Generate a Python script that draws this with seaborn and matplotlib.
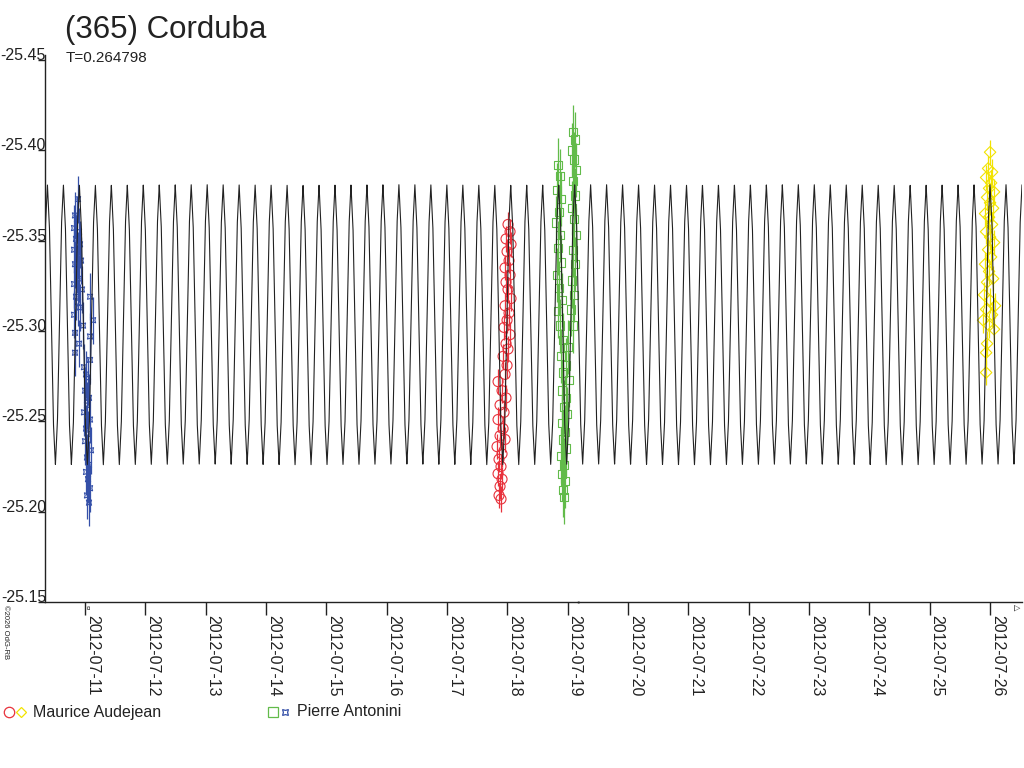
import numpy as np
import pandas as pd
import matplotlib
matplotlib.use("Agg")
import matplotlib.pyplot as plt
import matplotlib.dates as mdates
from matplotlib.lines import Line2D
import seaborn as sns

# --- data (times as fractional day of July 2012, magnitudes) ---
PERIOD = 0.264798
EPOCH_DAY = 11.966          # a light-curve maximum
MODEL_PHASE = [0.0, 0.125, 0.25, 0.375, 0.5, 0.625, 0.75, 0.875, 1.0]
MODEL_MAG = [-25.381, -25.358, -25.303, -25.249, -25.226, -25.249, -25.303, -25.358, -25.381]

# Pierre Antonini, session 1 (blue)
anto1_t = [10.884, 10.834, 10.867, 10.818, 10.901, 10.851, 10.917, 10.818, 10.884, 10.934,
           10.834, 10.867, 10.901, 10.818, 10.950, 10.851, 11.083, 10.884, 10.917, 10.818,
           11.133, 10.967, 10.834, 11.083, 10.901, 10.834, 11.083, 10.983, 11.017, 11.050,
           11.000, 11.066, 11.033, 10.983, 11.083, 11.017, 11.050, 11.000, 11.099, 11.033,
           11.066, 11.017, 11.050, 11.083, 11.033, 11.066]
anto1_m = [-25.373, -25.364, -25.362, -25.357, -25.355, -25.351, -25.348, -25.345, -25.342, -25.339,
           -25.337, -25.334, -25.329, -25.326, -25.323, -25.319, -25.319, -25.316, -25.313, -25.309,
           -25.306, -25.303, -25.299, -25.297, -25.293, -25.288, -25.284, -25.280, -25.276, -25.272,
           -25.267, -25.263, -25.259, -25.255, -25.251, -25.246, -25.243, -25.239, -25.234, -25.230,
           -25.226, -25.222, -25.218, -25.213, -25.209, -25.205]

# Maurice Audejean, session 1 (red)
aude1_t = [18.011, 18.045, 17.978, 18.061, 17.995, 18.028, 17.962, 18.045, 17.978, 18.011,
           18.061, 17.962, 18.028, 17.995, 17.945, 18.045, 17.978, 18.011, 17.929, 17.995,
           17.846, 17.962, 17.912, 17.978, 17.879, 17.945, 17.846, 17.929, 17.879, 17.962,
           17.829, 17.912, 17.862, 17.895, 17.846, 17.912, 17.879, 17.862, 17.895]
aude1_m = [-25.359, -25.355, -25.351, -25.348, -25.344, -25.339, -25.335, -25.331, -25.327, -25.323,
           -25.318, -25.314, -25.310, -25.306, -25.302, -25.298, -25.293, -25.290, -25.286, -25.281,
           -25.272, -25.276, -25.267, -25.263, -25.259, -25.255, -25.251, -25.246, -25.242, -25.240,
           -25.236, -25.232, -25.229, -25.225, -25.221, -25.218, -25.214, -25.209, -25.207]

# Pierre Antonini, session 2 (green)
anto2_t = [18.840, 18.873, 18.824, 18.890, 18.857, 18.807, 18.873, 18.840, 18.890, 18.824,
           18.857, 18.907, 18.840, 18.873,
           19.089, 19.122, 19.072, 19.106, 19.139, 19.089, 19.122, 19.072, 19.106, 19.139,
           19.089, 19.122, 19.072, 19.106, 19.056, 19.089,
           18.923, 19.006, 18.890, 18.973, 18.923, 19.023, 18.907, 18.973, 18.940, 18.990,
           18.907, 18.956, 18.923, 18.973, 18.890, 18.940, 18.907, 18.956, 18.923, 18.940]
anto2_m = [-25.392, -25.386, -25.378, -25.373, -25.366, -25.360, -25.353, -25.346, -25.338, -25.331,
           -25.324, -25.317, -25.311, -25.303,
           -25.410, -25.406, -25.400, -25.395, -25.389, -25.383, -25.375, -25.368, -25.362, -25.353,
           -25.345, -25.337, -25.328, -25.320, -25.312, -25.303,
           -25.295, -25.291, -25.286, -25.281, -25.277, -25.273, -25.267, -25.263, -25.258, -25.254,
           -25.249, -25.244, -25.240, -25.235, -25.231, -25.226, -25.221, -25.217, -25.212, -25.208]

# Maurice Audejean, session 2 (yellow)
aude2_t = [26.001, 25.968, 26.034, 25.935, 26.018, 25.984, 26.067, 25.951, 26.001, 26.051,
           25.918, 25.984, 26.034, 25.935, 26.001, 26.067, 25.968, 26.018, 25.918, 25.984,
           26.051, 25.951, 25.901, 26.001, 26.084, 25.935, 26.034, 25.885, 25.984, 26.067,
           25.951, 25.935, 25.935]
aude2_m = [-25.399, -25.390, -25.388, -25.385, -25.382, -25.379, -25.377, -25.374, -25.371, -25.368,
           -25.365, -25.363, -25.359, -25.355, -25.352, -25.349, -25.345, -25.341, -25.337, -25.333,
           -25.329, -25.327, -25.320, -25.317, -25.314, -25.312, -25.309, -25.306, -25.303, -25.301,
           -25.293, -25.288, -25.277]

date_days = list(range(11, 27))
y_ticks = [-25.45, -25.40, -25.35, -25.30, -25.25, -25.20, -25.15]

BASE = pd.Timestamp("2012-07-01")


def to_dates(days):
    return BASE + pd.to_timedelta(np.asarray(days, dtype=float) - 1.0, unit="D")


sns.set_style("white")
plt.rcParams["font.family"] = ["Liberation Sans", "DejaVu Sans"]
TXT = "#222222"

fig = plt.figure(figsize=(10.24, 7.68), dpi=100)
ax = fig.add_axes([45 / 1024, 1 - 602 / 768, (1022 - 45) / 1024, (602 - 55) / 768])

# model light curve, repeated with period T
model_days = np.linspace(10.337, 26.53, 14000)
phase = np.mod((model_days - EPOCH_DAY) / PERIOD, 1.0)
model_mag = np.interp(phase, MODEL_PHASE, MODEL_MAG)

series = [
    (anto1_t, anto1_m, 0.013, "#3550a8", (4, 1, 45), 28),
    (aude1_t, aude1_m, 0.007, "#e8323c", "o", 52),
    (anto2_t, anto2_m, 0.015, "#62bb4a", "s", 36),
    (aude2_t, aude2_m, 0.007, "#f2e300", "D", 34),
]
for t, m, err, col, mk, size in series:
    dt = to_dates(t)
    ax.errorbar(dt, m, yerr=err, fmt="none", ecolor=col, elinewidth=0.9, capsize=0, zorder=2)
    sns.scatterplot(x=dt, y=m, marker=mk, s=size, color=col, facecolors="none",
                    edgecolors=col, linewidth=0.8, ax=ax, zorder=2, legend=False)

sns.lineplot(x=to_dates(model_days), y=model_mag, color=TXT, linewidth=0.8,
             estimator=None, sort=False, ax=ax, zorder=3)

ax.set_xlim(to_dates([10.337])[0], to_dates([26.53])[0])
ax.set_ylim(-25.15, -25.4528)
ax.set_xlabel("")
ax.set_ylabel("")

ax.set_xticks(to_dates(date_days))
ax.xaxis.set_major_formatter(mdates.DateFormatter("%Y-%m-%d"))
ax.set_yticks(y_ticks)
ax.set_yticklabels([f"{v:.2f}" for v in y_ticks])

ax.tick_params(axis="x", direction="out", length=9.5, width=1, color=TXT, pad=0,
               labelsize=11.5, labelcolor=TXT, bottom=True)
ax.tick_params(axis="y", direction="out", length=5, width=1, color=TXT, pad=-5.8,
               labelsize=11.5, labelcolor=TXT, left=True)
for lab in ax.get_xticklabels():
    lab.set_rotation(270)
    lab.set_ha("left")
    lab.set_va("top")
for lab in ax.get_yticklabels():
    lab.set_va("baseline")
    lab.set_ha("right")

sns.despine(ax=ax, top=True, right=True)
for sp in ["left", "bottom"]:
    ax.spines[sp].set_color(TXT)
    ax.spines[sp].set_linewidth(1.0)

# titles
fig.text(65 / 1024, 1 - 30 / 768, "(365) Corduba", fontsize=22.5, color=TXT, va="center", ha="left")
fig.text(66 / 1024, 1 - 58 / 768, "T=0.264798", fontsize=11, color=TXT, va="center", ha="left")

# small session marks on the time axis
fig.text(87 / 1024, 1 - 607 / 768, "¤", fontsize=6, color=TXT, rotation=270, ha="center", va="center")
fig.text(578 / 1024, 1 - 606 / 768, "°", fontsize=6, color=TXT, ha="center", va="center")
fig.text(1015 / 1024, 1 - 607 / 768, "△", fontsize=6, color=TXT, rotation=270, ha="center", va="center")

# copyright
fig.text(5 / 1024, 1 - 632 / 768, "©2026 OdG-RB", fontsize=5.5, color=TXT, rotation=270,
         ha="center", va="center")

# legend
legend_items = [
    (9, "#e8323c", "o", 7.5),
    (21, "#f2e300", "D", 5.5),
    (273, "#62bb4a", "s", 6.5),
    (285, "#3550a8", (4, 1, 45), 6.0),
]
for lx, col, mk, ms in legend_items:
    fig.add_artist(Line2D([lx / 1024], [1 - 712 / 768], transform=fig.transFigure, marker=mk,
                          markersize=ms, markerfacecolor="none", markeredgecolor=col,
                          markeredgewidth=0.9, linestyle="none"))
fig.text(33 / 1024, 1 - 712 / 768, "Maurice Audejean", fontsize=11.5, color=TXT, va="center", ha="left")
fig.text(297 / 1024, 1 - 712 / 768, "Pierre Antonini", fontsize=11.5, color=TXT, va="center", ha="left")

fig.savefig("out.png", dpi=100)
